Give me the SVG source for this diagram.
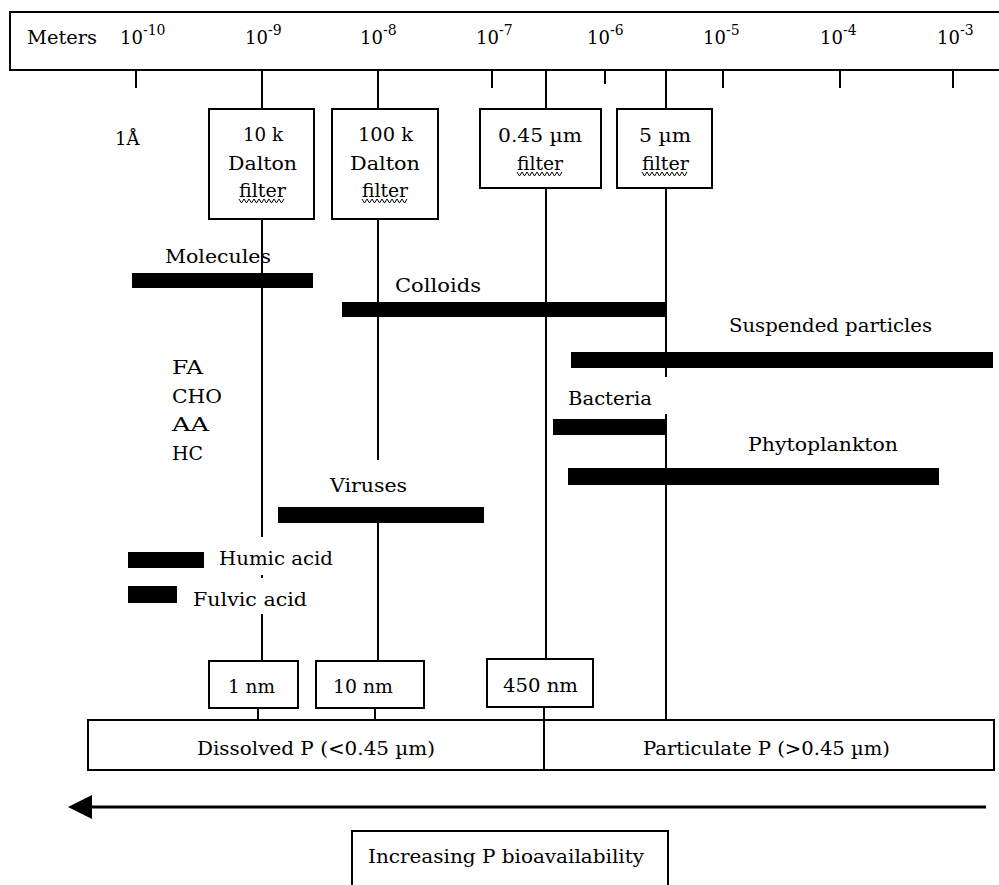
<svg xmlns="http://www.w3.org/2000/svg" xmlns:xlink="http://www.w3.org/1999/xlink" width="999" height="885" viewBox="0 0 999 885">
<style>
text{font-family:"DejaVu Serif","Liberation Serif",serif;font-size:18px;fill:#000}
.sup{font-size:14px}
.box{fill:#fff;stroke:#000;stroke-width:2}
.ln{stroke:#000;stroke-width:2;fill:none}
.bar{fill:#000}
.sq{stroke:#000;stroke-width:1;fill:none}
</style>
<defs>
<path id="sq" d="M0,0 l2.5,4 l2.5,-4 l2.5,4 l2.5,-4 l2.5,4 l2.5,-4 l2.5,4 l2.5,-4 l2.5,4 l2.5,-4 l2.5,4 l2.5,-4 l2.5,4 l2.5,-4 l2.5,4 l2.5,-4 l2.5,4 l2.5,-4"/>
</defs>
<rect width="999" height="885" fill="#fff"/>

<g id="connectors">
<line class="ln" x1="136" y1="70" x2="136" y2="88"/>
<line class="ln" x1="262" y1="70" x2="262" y2="109"/>
<line class="ln" x1="378" y1="70" x2="378" y2="109"/>
<line class="ln" x1="492" y1="70" x2="492" y2="88"/>
<line class="ln" x1="546" y1="70" x2="546" y2="109"/>
<line class="ln" x1="605" y1="70" x2="605" y2="84"/>
<line class="ln" x1="666" y1="70" x2="666" y2="109"/>
<line class="ln" x1="723" y1="70" x2="723" y2="88"/>
<line class="ln" x1="840" y1="70" x2="840" y2="88"/>
<line class="ln" x1="953" y1="70" x2="953" y2="88"/>
<line class="ln" x1="262" y1="219" x2="262" y2="537"/>
<line class="ln" x1="262" y1="575" x2="262" y2="578"/>
<line class="ln" x1="262" y1="614" x2="262" y2="661"/>
<line class="ln" x1="378" y1="219" x2="378" y2="460"/>
<line class="ln" x1="378" y1="507" x2="378" y2="661"/>
<line class="ln" x1="546" y1="188" x2="546" y2="659"/>
<line class="ln" x1="544" y1="707" x2="544" y2="770"/>
<line class="ln" x1="666" y1="188" x2="666" y2="377"/>
<line class="ln" x1="666" y1="414" x2="666" y2="720"/>
<line class="ln" x1="258" y1="708" x2="258" y2="720"/>
<line class="ln" x1="375" y1="708" x2="375" y2="720"/>
<line x1="90" y1="807" x2="986" y2="807" stroke="#000" stroke-width="3"/>
<polygon points="68,807 92,795 92,819" fill="#000"/>
</g>

<g id="scale">
<rect class="box" x="10" y="12" width="1000" height="58"/>
<text x="27" y="44" textLength="70" lengthAdjust="spacingAndGlyphs">Meters</text>
<text x="120" y="44">10<tspan class="sup" dy="-9">-10</tspan></text>
<text x="245" y="44">10<tspan class="sup" dy="-9">-9</tspan></text>
<text x="360" y="44">10<tspan class="sup" dy="-9">-8</tspan></text>
<text x="476" y="44">10<tspan class="sup" dy="-9">-7</tspan></text>
<text x="587" y="44">10<tspan class="sup" dy="-9">-6</tspan></text>
<text x="703" y="44">10<tspan class="sup" dy="-9">-5</tspan></text>
<text x="820" y="44">10<tspan class="sup" dy="-9">-4</tspan></text>
<text x="937" y="44">10<tspan class="sup" dy="-9">-3</tspan></text>
</g>

<g id="angstrom"><text x="115" y="145">1Å</text></g>

<g id="filter-10k">
<rect class="box" x="209" y="109" width="105" height="110"/>
<text x="243" y="141" textLength="40" lengthAdjust="spacingAndGlyphs">10 k</text>
<text x="228" y="170" textLength="69" lengthAdjust="spacingAndGlyphs">Dalton</text>
<text x="239" y="197" textLength="47" lengthAdjust="spacingAndGlyphs">filter</text>
<use class="sq" xlink:href="#sq" x="239" y="199"/>
</g>
<g id="filter-100k">
<rect class="box" x="332" y="109" width="106" height="110"/>
<text x="358" y="141" textLength="55" lengthAdjust="spacingAndGlyphs">100 k</text>
<text x="350" y="170" textLength="70" lengthAdjust="spacingAndGlyphs">Dalton</text>
<text x="362" y="197" textLength="46" lengthAdjust="spacingAndGlyphs">filter</text>
<use class="sq" xlink:href="#sq" x="362" y="199"/>
</g>
<g id="filter-045">
<rect class="box" x="480" y="109" width="121" height="79"/>
<text x="498" y="142" textLength="84" lengthAdjust="spacingAndGlyphs">0.45 µm</text>
<text x="517" y="170" textLength="46" lengthAdjust="spacingAndGlyphs">filter</text>
<use class="sq" xlink:href="#sq" x="517" y="172"/>
</g>
<g id="filter-5">
<rect class="box" x="617" y="109" width="95" height="79"/>
<text x="639" y="142" textLength="52" lengthAdjust="spacingAndGlyphs">5 µm</text>
<text x="642" y="170" textLength="47" lengthAdjust="spacingAndGlyphs">filter</text>
<use class="sq" xlink:href="#sq" x="642" y="172"/>
</g>

<g id="molecules">
<text x="165" y="263" textLength="106" lengthAdjust="spacingAndGlyphs">Molecules</text>
<rect class="bar" x="132" y="273" width="181" height="15"/>
</g>
<g id="colloids">
<text x="395" y="292" textLength="86" lengthAdjust="spacingAndGlyphs">Colloids</text>
<rect class="bar" x="342" y="302" width="323" height="15"/>
</g>
<g id="suspended">
<text x="729" y="332" textLength="203" lengthAdjust="spacingAndGlyphs">Suspended particles</text>
<rect class="bar" x="571" y="352" width="422" height="16"/>
</g>
<g id="molecule-list">
<text x="172" y="374" textLength="31" lengthAdjust="spacingAndGlyphs">FA</text>
<text x="172" y="403" textLength="50" lengthAdjust="spacingAndGlyphs">CHO</text>
<text x="172" y="431" textLength="37" lengthAdjust="spacingAndGlyphs">AA</text>
<text x="172" y="460" textLength="31" lengthAdjust="spacingAndGlyphs">HC</text>
</g>
<g id="bacteria">
<text x="568" y="405" textLength="84" lengthAdjust="spacingAndGlyphs">Bacteria</text>
<rect class="bar" x="553" y="419" width="112" height="16"/>
</g>
<g id="phytoplankton">
<text x="748" y="451" textLength="150" lengthAdjust="spacingAndGlyphs">Phytoplankton</text>
<rect class="bar" x="568" y="468" width="371" height="17"/>
</g>
<g id="viruses">
<text x="330" y="492" textLength="77" lengthAdjust="spacingAndGlyphs">Viruses</text>
<rect class="bar" x="278" y="507" width="206" height="16"/>
</g>
<g id="humic">
<rect class="bar" x="128" y="552" width="76" height="16"/>
<text x="219" y="565" textLength="114" lengthAdjust="spacingAndGlyphs">Humic acid</text>
</g>
<g id="fulvic">
<rect class="bar" x="128" y="586" width="49" height="17"/>
<text x="193" y="606" textLength="114" lengthAdjust="spacingAndGlyphs">Fulvic acid</text>
</g>

<g id="nm1">
<rect class="box" x="209" y="661" width="89" height="47"/>
<text x="228" y="693" textLength="47" lengthAdjust="spacingAndGlyphs">1 nm</text>
</g>
<g id="nm10">
<rect class="box" x="316" y="661" width="108" height="47"/>
<text x="333" y="693" textLength="60" lengthAdjust="spacingAndGlyphs">10 nm</text>
</g>
<g id="nm450">
<rect class="box" x="487" y="659" width="106" height="48"/>
<text x="503" y="692" textLength="75" lengthAdjust="spacingAndGlyphs">450 nm</text>
</g>

<g id="fractions">
<rect class="box" x="88" y="720" width="906" height="50"/>
<line class="ln" x1="544" y1="720" x2="544" y2="770"/>
<text x="197" y="755" textLength="238" lengthAdjust="spacingAndGlyphs">Dissolved P (&lt;0.45 µm)</text>
<text x="643" y="755" textLength="247" lengthAdjust="spacingAndGlyphs">Particulate P (&gt;0.45 µm)</text>
</g>

<g id="bioavailability">
<rect class="box" x="352" y="831" width="316" height="60"/>
<text x="368" y="863" textLength="276" lengthAdjust="spacingAndGlyphs">Increasing P bioavailability</text>
</g>
</svg>
